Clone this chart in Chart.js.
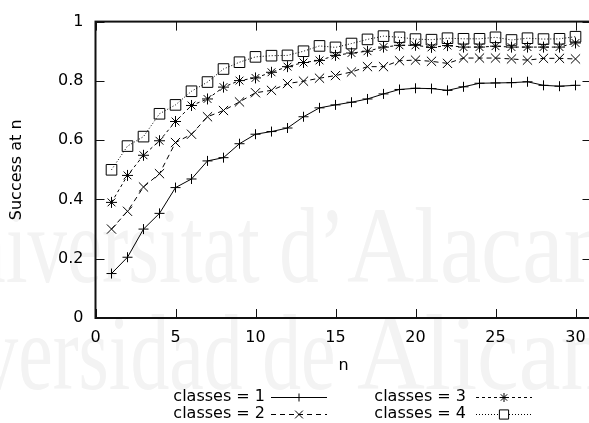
<!DOCTYPE html>
<html>
<head>
<meta charset="utf-8">
<script src="https://cdn.jsdelivr.net/npm/chart.js@4/dist/chart.umd.min.js"></script>
<style>
  html, body { margin: 0; padding: 0; background: #fff; overflow: hidden; }
  canvas { display: block; }
</style>
</head>
<body>
<canvas id="successChart" width="600" height="423"></canvas>
<script>
const nValues = [1, 2, 3, 4, 5, 6, 7, 8, 9, 10, 11, 12, 13, 14, 15,
                 16, 17, 18, 19, 20, 21, 22, 23, 24, 25, 26, 27, 28, 29, 30];

const classes1 = [0.150, 0.205, 0.300, 0.353, 0.440, 0.469, 0.530, 0.541, 0.588, 0.620,
                  0.629, 0.641, 0.679, 0.709, 0.719, 0.728, 0.739, 0.756, 0.771, 0.775,
                  0.774, 0.768, 0.780, 0.792, 0.793, 0.794, 0.797, 0.785, 0.782, 0.785];
const classes2 = [0.300, 0.360, 0.442, 0.487, 0.592, 0.620, 0.679, 0.700, 0.729, 0.760,
                  0.768, 0.791, 0.799, 0.809, 0.818, 0.830, 0.848, 0.848, 0.868, 0.870,
                  0.866, 0.859, 0.877, 0.877, 0.877, 0.874, 0.870, 0.876, 0.876, 0.874];
const classes3 = [0.390, 0.481, 0.549, 0.598, 0.663, 0.717, 0.739, 0.779, 0.801, 0.810,
                  0.829, 0.848, 0.862, 0.869, 0.886, 0.894, 0.900, 0.914, 0.920, 0.920,
                  0.913, 0.919, 0.914, 0.914, 0.917, 0.914, 0.914, 0.914, 0.914, 0.928];
const classes4 = [0.500, 0.580, 0.612, 0.689, 0.719, 0.765, 0.796, 0.840, 0.863, 0.881,
                  0.885, 0.886, 0.900, 0.918, 0.913, 0.926, 0.940, 0.951, 0.947, 0.941,
                  0.939, 0.944, 0.942, 0.942, 0.947, 0.938, 0.944, 0.941, 0.942, 0.949];

const seriesLabels = ['classes = 1', 'classes = 2', 'classes = 3', 'classes = 4'];
const xTicks = [0, 5, 10, 15, 20, 25, 30];
const yTicks = [0, 0.2, 0.4, 0.6, 0.8, 1];

const FONT = '"DejaVu Sans", Arial, Helvetica, sans-serif';

function toPoints(ys) {
  return nValues.map((n, i) => ({ x: n, y: ys[i] }));
}

const styles = [
  { pointStyle: 'cross',    radius: 5,   dash: [] },
  { pointStyle: 'crossRot', radius: 6.5, dash: [5, 4] },
  { pointStyle: 'star',     radius: 5.5, dash: [3, 3] },
  { pointStyle: 'rect',     radius: 7.5, dash: [1, 2] }
];

const datasets = [classes1, classes2, classes3, classes4].map((ys, i) => ({
  label: seriesLabels[i],
  data: toPoints(ys),
  borderColor: '#000',
  borderWidth: 1,
  borderDash: styles[i].dash,
  pointStyle: styles[i].pointStyle,
  pointRadius: styles[i].radius,
  pointBorderColor: '#000',
  pointBackgroundColor: 'rgba(0,0,0,0)',
  pointBorderWidth: 1,
  fill: false,
  tension: 0
}));

// draws a condensed word piece; left pieces end at x, right pieces start at x
function wordPiece(ctx, text, x, base, sx, alignRight) {
  const w = ctx.measureText(text).width * sx;
  ctx.save();
  ctx.translate(alignRight ? x - w : x, base);
  ctx.scale(sx, 1);
  ctx.fillText(text, 0, 0);
  ctx.restore();
}

// background watermark, plot frame with inward ticks, and the gnuplot-style key
const gnuplotLook = {
  id: 'gnuplotLook',
  beforeDraw(chart) {
    const ctx = chart.ctx;
    ctx.save();
    ctx.fillStyle = '#fff';
    ctx.fillRect(0, 0, chart.width, chart.height);

    ctx.fillStyle = '#f3f3f3';
    ctx.font = '108px "Liberation Serif", "DejaVu Serif", serif';
    ctx.textBaseline = 'alphabetic';
    wordPiece(ctx, 'Universitat d\u2019', 345, 282, 0.73, true);
    wordPiece(ctx, 'Alacant', 347, 282, 0.86, false);
    wordPiece(ctx, 'Universidad de ', 355, 389, 0.72, true);
    wordPiece(ctx, 'Alicante', 357, 389, 0.87, false);
    ctx.restore();
  },
  afterDraw(chart) {
    const ctx = chart.ctx;
    const a = chart.chartArea;
    const xs = chart.scales.x, ys = chart.scales.y;
    ctx.save();
    ctx.strokeStyle = '#111';
    ctx.lineWidth = 2;
    ctx.setLineDash([]);
    ctx.strokeRect(a.left, a.top, a.right - a.left, a.bottom - a.top);

    ctx.lineWidth = 1;
    const tl = 9;
    ctx.beginPath();
    xTicks.forEach(v => {
      const px = Math.round(xs.getPixelForValue(v)) + 0.5;
      ctx.moveTo(px, a.bottom); ctx.lineTo(px, a.bottom - tl);
      ctx.moveTo(px, a.top); ctx.lineTo(px, a.top + tl);
    });
    yTicks.forEach(v => {
      const py = Math.round(ys.getPixelForValue(v)) + 0.5;
      ctx.moveTo(a.left, py); ctx.lineTo(a.left + tl, py);
      ctx.moveTo(a.right, py); ctx.lineTo(a.right - tl, py);
    });
    ctx.stroke();

    // key
    const key = [
      { tx: 265, x0: 271, x1: 327, y: 397 },
      { tx: 265, x0: 271, x1: 327, y: 414 },
      { tx: 466, x0: 476, x1: 532, y: 397 },
      { tx: 466, x0: 476, x1: 532, y: 414 }
    ];
    ctx.font = '16px ' + FONT;
    ctx.textAlign = 'right';
    ctx.textBaseline = 'middle';
    chart.data.datasets.forEach((ds, i) => {
      const k = key[i];
      ctx.fillStyle = '#000';
      ctx.fillText(ds.label, k.tx, k.y);
      ctx.beginPath();
      ctx.setLineDash(ds.borderDash);
      ctx.strokeStyle = '#000';
      ctx.lineWidth = 1;
      ctx.moveTo(k.x0, k.y + 0.5);
      ctx.lineTo(k.x1, k.y + 0.5);
      ctx.stroke();
      ctx.setLineDash([]);
      const mx = (k.x0 + k.x1) / 2;
      if (Chart.helpers && Chart.helpers.drawPoint) {
        ctx.fillStyle = '#fff';
        Chart.helpers.drawPoint(ctx, {
          pointStyle: ds.pointStyle,
          radius: ds.pointRadius - 1,
          rotation: 0,
          borderWidth: 1
        }, mx, k.y + 0.5);
      }
    });
    ctx.restore();
  }
};

const axisFont = { family: FONT, size: 16 };

new Chart(document.getElementById('successChart'), {
  type: 'line',
  data: { datasets: datasets },
  plugins: [gnuplotLook],
  options: {
    responsive: false,
    animation: false,
    devicePixelRatio: 1,
    layout: { padding: { left: 0, right: 8.5, top: 20, bottom: 45 } },
    plugins: {
      legend: { display: false },
      tooltip: { enabled: false }
    },
    scales: {
      x: {
        type: 'linear',
        min: 0,
        max: 31,
        afterBuildTicks(scale) {
          scale.ticks = xTicks.map(v => ({ value: v }));
        },
        afterFit(scale) { scale.height = 60; },
        ticks: { color: '#000', font: axisFont, padding: 10, maxRotation: 0 },
        grid: { drawOnChartArea: false, drawTicks: false },
        border: { display: false },
        title: {
          display: true, text: 'n', color: '#000',
          font: axisFont, padding: { top: 3, bottom: 3 }
        }
      },
      y: {
        min: 0,
        max: 1,
        afterBuildTicks(scale) {
          scale.ticks = yTicks.map(v => ({ value: v }));
        },
        afterFit(scale) { scale.width = 95.5; },
        ticks: {
          color: '#000', font: axisFont, padding: 12,
          callback: v => String(Math.round(v * 10) / 10)
        },
        grid: { drawOnChartArea: false, drawTicks: false },
        border: { display: false },
        title: {
          display: true, text: 'Success at n', color: '#000',
          font: axisFont, padding: { top: 7, bottom: 7 }
        }
      }
    }
  }
});
</script>
</body>
</html>
